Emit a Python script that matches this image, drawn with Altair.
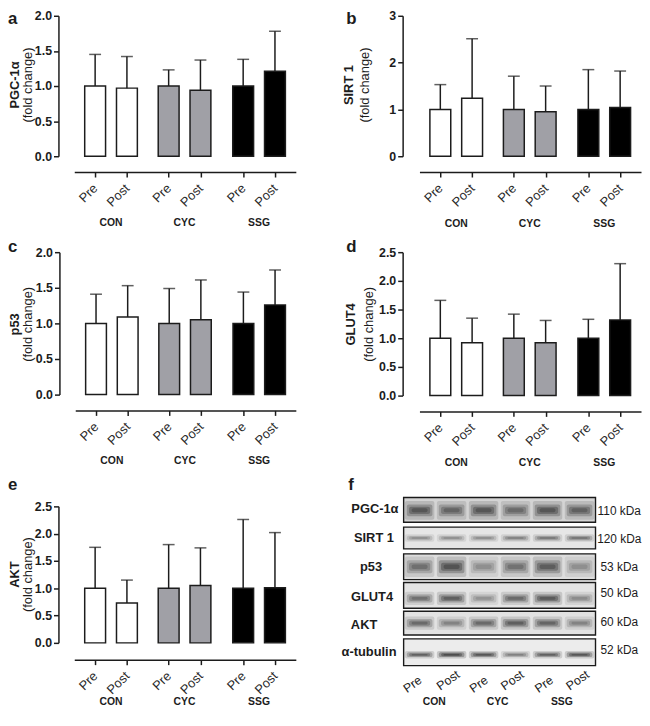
import altair as alt
import pandas as pd

GROUPS = ["CON", "CON", "CYC", "CYC", "SSG", "SSG"]
PHASES = ["Pre", "Post", "Pre", "Post", "Pre", "Post"]

PGC_MEAN = [1.0, 0.97, 1.0, 0.94, 1.0, 1.21]
PGC_TOP = [1.45, 1.42, 1.23, 1.37, 1.38, 1.78]
SIRT_MEAN = [1.0, 1.24, 1.0, 0.95, 1.0, 1.04]
SIRT_TOP = [1.53, 2.51, 1.71, 1.50, 1.85, 1.82]
P53_MEAN = [1.0, 1.09, 1.0, 1.05, 1.0, 1.26]
P53_TOP = [1.41, 1.53, 1.49, 1.61, 1.44, 1.75]
GLUT_MEAN = [1.0, 0.92, 1.0, 0.92, 1.0, 1.32]
GLUT_TOP = [1.66, 1.35, 1.42, 1.31, 1.33, 2.30]
AKT_MEAN = [1.0, 0.73, 1.0, 1.05, 1.0, 1.01]
AKT_TOP = [1.75, 1.15, 1.80, 1.74, 2.26, 2.02]

BLOT_ROWS = ["PGC-1α", "SIRT 1", "p53", "GLUT4", "AKT", "α-tubulin"]
BLOT_KDA = ["110 kDa", "120 kDa", "53 kDa", "50 kDa", "60 kDa", "52 kDa"]
BLOT_DARK = [
    [0.85, 0.70, 0.85, 0.65, 0.85, 0.75],
    [0.45, 0.45, 0.45, 0.55, 0.60, 0.65],
    [0.65, 0.90, 0.40, 0.60, 0.80, 0.40],
    [0.65, 0.80, 0.40, 0.70, 0.85, 0.45],
    [0.70, 0.50, 0.70, 0.80, 0.75, 0.50],
    [0.80, 1.00, 0.90, 0.55, 0.80, 0.90],
]

# ---------- layout and style ----------
FONT = "Liberation Sans"
INK = "#1c1c1c"
FILLS = {"CON": "#ffffff", "CYC": "#a0a0a6", "SSG": "#000000"}
TICK_POS = [21, 53, 95, 127, 170, 202]
GROUP_POS = [37, 111, 186]
W = 224


def note(text, x, y, size=13, weight="normal", angle=0, align="center", baseline="middle"):
    return alt.Chart(pd.DataFrame({"t": [text]})).mark_text(
        font=FONT, fontSize=size, fontWeight=weight, angle=angle, align=align,
        baseline=baseline, color=INK,
    ).encode(text="t:N", x=alt.value(x), y=alt.value(y))


def bar_panel(letter, letter_xy, name, means, tops, domain, step, y_range, height,
              x_axis_offset, y_axis_offset, title_x, title_y, group_y, fmt, x_range=(0, W)):
    df = pd.DataFrame({"group": GROUPS, "phase": PHASES, "pos": TICK_POS,
                       "mean": means, "top": tops})
    df["x0"] = df["pos"] - 10.5
    df["x1"] = df["pos"] + 10.5
    df["zero"] = 0
    pre = ",".join(str(p) for p in TICK_POS[::2])
    xs = alt.Scale(domain=[0, 223], range=list(x_range), nice=False, zero=False)
    ys = alt.Scale(domain=domain, range=list(y_range), nice=False)
    n = int(round((domain[1]) / step))
    xaxis = alt.Axis(
        values=TICK_POS, title=None, grid=False, offset=x_axis_offset, tickSize=5,
        tickWidth=1.5, domainWidth=1.5, domainColor=INK, tickColor=INK,
        labelExpr=f"indexof([{pre}], datum.value) >= 0 ? 'Pre' : 'Post'",
        labelAngle=-45, labelAlign="right", labelBaseline="middle", labelPadding=9,
        labelFont=FONT, labelFontSize=13, labelColor="#2a2a2a", labelFlush=False,
        labelOverlap=False,
    )
    yaxis = alt.Axis(
        values=[float(i) * step for i in range(n + 1)], title=None, grid=False,
        offset=y_axis_offset, tickSize=5, tickWidth=1.5, domainWidth=1.5,
        domainColor=INK, tickColor=INK, labelFont=FONT, labelFontSize=12.5,
        labelFontWeight="bold", labelColor=INK, format=fmt, labelPadding=2,
        labelFlush=False, labelOverlap=False, tickCount=n + 1,
    )
    base = alt.Chart(df)
    bars = base.mark_rect(stroke=INK, strokeWidth=1.5).encode(
        x=alt.X("x0:Q", scale=xs, axis=xaxis),
        x2="x1:Q",
        y=alt.Y("mean:Q", scale=ys, axis=yaxis),
        y2="zero:Q",
        fill=alt.Fill("group:N", scale=alt.Scale(domain=list(FILLS), range=list(FILLS.values())),
                      legend=None),
    )
    stems = base.mark_rule(color=INK, strokeWidth=1.5).encode(
        x=alt.X("pos:Q", scale=xs), y=alt.Y("mean:Q", scale=ys), y2="top:Q")
    caps = base.mark_tick(orient="horizontal", size=12, thickness=1.5, color=INK).encode(
        x=alt.X("pos:Q", scale=xs), y=alt.Y("top:Q", scale=ys))
    glabels = alt.Chart(pd.DataFrame({"g": ["CON", "CYC", "SSG"], "p": GROUP_POS})).mark_text(
        font=FONT, fontSize=10.5, fontWeight="bold", color=INK, baseline="middle").encode(
        text="g:N", x=alt.X("p:Q", scale=xs), y=alt.value(group_y))
    return alt.layer(
        bars, stems, caps, glabels,
        note(letter, letter_xy[0], letter_xy[1], size=17, weight="bold", align="left",
             baseline="alphabetic"),
        note(name, title_x[0], title_y, weight="bold", angle=270),
        note("(fold change)", title_x[1], title_y, angle=270),
    ).properties(width=W, height=height)


a = bar_panel("a", (-67, 11), "PGC-1α", PGC_MEAN, PGC_TOP, [0, 2], 0.5, (145, 3), 146, 15, 16,
              (-60, -47), 73, 213, ".1f")
b = bar_panel("b", (-74, 11), "SIRT 1", SIRT_MEAN, SIRT_TOP, [0, 3], 1, (145, 3), 146, 15, 17,
              (-71, -55), 73, 214, "d")
c = bar_panel("c", (-67, 0), "p53", P53_MEAN, P53_TOP, [0, 2], 0.5, (144, 0), 161, -1, 15,
              (-60, -47), 73, 211, ".1f", x_range=(1, W))
d = bar_panel("d", (-74, 0), "GLUT4", GLUT_MEAN, GLUT_TOP, [0, 2.5], 0.5, (145, 0), 161, 0, 17,
              (-69, -51), 73, 213, ".1f")
e = bar_panel("e", (-67, -17), "AKT", AKT_MEAN, AKT_TOP, [0, 2.5], 0.5, (138, 0), 138, 17, 16,
              (-60, -47), 69, 198, ".1f")

# ---------- panel f ----------
ROW_TOP = [0, 30, 57, 86, 115, 143]
ROW_BOTTOM = [25, 52, 83, 112, 139, 170]
BAND_CENTER = [13, 41, 70, 102, 127, 159]
BAND_HEIGHT = [10, 4, 11, 7, 7, 4]
ROW_BG = ["#d4d4d4", "#e6e6e6", "#dddddd", "#e4e4e4", "#e2e2e2", "#ececec"]

fx = alt.Scale(domain=[0, 6], range=[-16, 178], nice=False, zero=False)
fy = alt.Scale(domain=[0, 170], range=[-9, 161], nice=False, zero=False)

frames = pd.DataFrame({"row": BLOT_ROWS, "x0": 0, "x1": 6, "top": ROW_TOP, "bot": ROW_BOTTOM,
                       "bg": ROW_BG})
frame_layer = alt.Chart(frames).mark_rect(stroke="#1a1a1a", strokeWidth=1.4).encode(
    x=alt.X("x0:Q", scale=fx, axis=None), x2="x1:Q",
    y=alt.Y("top:Q", scale=fy, axis=None), y2="bot:Q",
    fill=alt.Fill("bg:N", scale=None),
)
band_rows = []
for r, dark in enumerate(BLOT_DARK):
    for lane, dk in enumerate(dark):
        for wf, hf, op in ((0.92, 1.9, 0.18), (0.8, 1.2, 0.3), (0.66, 0.75, 0.35), (0.5, 0.4, 0.35)):
            band_rows.append({
                "x0": lane + 0.5 - wf / 2, "x1": lane + 0.5 + wf / 2,
                "y0": BAND_CENTER[r] - BAND_HEIGHT[r] * hf / 2,
                "y1": BAND_CENTER[r] + BAND_HEIGHT[r] * hf / 2,
                "op": op * dk,
            })
band_layer = alt.Chart(pd.DataFrame(band_rows)).mark_rect(color="#1e1e1e", cornerRadius=2).encode(
    x=alt.X("x0:Q", scale=fx, axis=None), x2="x1:Q",
    y=alt.Y("y0:Q", scale=fy, axis=None), y2="y1:Q",
    opacity=alt.Opacity("op:Q", scale=None),
)

ROW_LABEL_X = [379, 378, 375, 376, 368, 373]
ROW_LABEL_Y = [513, 542, 571, 602, 630, 657]
KDA_Y = [515, 543, 571, 598, 627, 655]
ORIGIN_X, ORIGIN_Y = 424, 510
f_notes = [note("f", 352 - ORIGIN_X, 493 - ORIGIN_Y, size=17, weight="bold", align="left",
                baseline="alphabetic")]
for name, kda, lx, ly, ky in zip(BLOT_ROWS, BLOT_KDA, ROW_LABEL_X, ROW_LABEL_Y, KDA_Y):
    f_notes.append(note(name, lx - ORIGIN_X, ly - ORIGIN_Y, size=13, weight="bold"))
    f_notes.append(note(kda, 626 - ORIGIN_X, ky - ORIGIN_Y, size=12))
LANE_X = [417, 453, 484, 518, 550, 584]
LANE_Y = [690, 686, 690, 686, 690, 686]
for ph, lx, ly in zip(PHASES, LANE_X, LANE_Y):
    f_notes.append(note(ph, lx - ORIGIN_X, ly - ORIGIN_Y, size=12.5, angle=325))
for g, gx in zip(["CON", "CYC", "SSG"], [439, 503, 568]):
    f_notes.append(note(g, gx - ORIGIN_X, 708 - ORIGIN_Y, size=10.5, weight="bold"))
f = alt.layer(frame_layer, band_layer, *f_notes).properties(width=W, height=138)

chart = alt.concat(a, b, c, d, e, f, columns=2, spacing={"row": 96, "column": 125},
                   bounds="flush").properties(
    padding={"left": 0, "top": -2, "right": 0, "bottom": -1}
).configure_view(stroke=None)
chart.save("out.html", embed_options={"renderer": "svg", "actions": False})
